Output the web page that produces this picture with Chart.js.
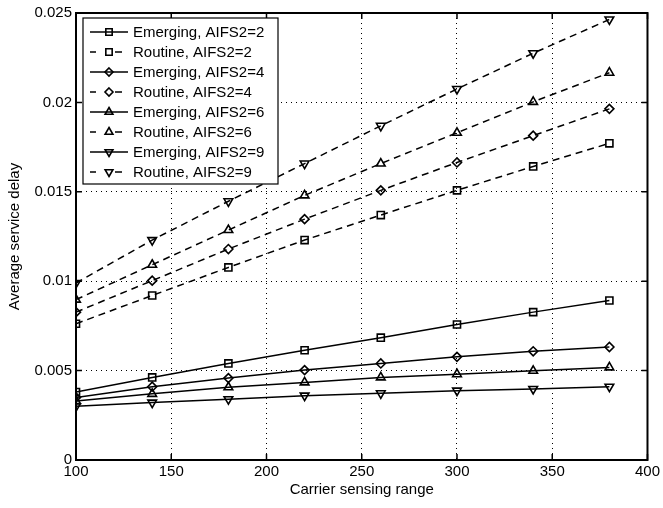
<!DOCTYPE html>
<html>
<head>
<meta charset="utf-8">
<script src="https://cdn.jsdelivr.net/npm/chart.js@4/dist/chart.umd.min.js"></script>
<style>
  body { margin: 0; background: #fff; }
  #wrap { width: 663px; height: 508px; position: relative; }
</style>
</head>
<body>
<div id="wrap"><canvas id="chart"></canvas></div>
<script>
const ranges = [100, 140, 180, 220, 260, 300, 340, 380];

const emerging2 = [0.0038, 0.00462, 0.0054, 0.00614, 0.00684, 0.00758, 0.00827, 0.00892];
const routine2  = [0.00762, 0.0092, 0.01077, 0.0123, 0.0137, 0.01508, 0.01642, 0.01771];
const emerging4 = [0.0035, 0.0041, 0.00458, 0.00503, 0.0054, 0.00577, 0.00608, 0.00632];
const routine4  = [0.00827, 0.01003, 0.0118, 0.01347, 0.01508, 0.01664, 0.01814, 0.01964];
const emerging6 = [0.0033, 0.0037, 0.00407, 0.00434, 0.00462, 0.0048, 0.00499, 0.00518];
const routine6  = [0.00897, 0.01092, 0.01286, 0.0148, 0.01658, 0.0183, 0.02003, 0.02166];
const emerging9 = [0.0030, 0.00321, 0.0034, 0.0036, 0.00373, 0.00388, 0.00397, 0.0041];
const routine9  = [0.0099, 0.0123, 0.01447, 0.01658, 0.01869, 0.02075, 0.02275, 0.02464];

const xTicks = [100, 150, 200, 250, 300, 350, 400];
const yTicks = [0, 0.005, 0.01, 0.015, 0.02, 0.025];

const FONT = '"Liberation Sans", Arial, Helvetica, sans-serif';
const DASH = [7, 5];

function series(label, values, marker, dashed) {
  return {
    label: label,
    data: ranges.map((x, i) => ({ x: x, y: values[i] })),
    borderColor: '#000',
    borderWidth: 1.5,
    borderDash: dashed ? DASH : [],
    backgroundColor: 'rgba(0,0,0,0)',
    pointStyle: marker === 'down' ? 'triangle' : marker,
    pointRotation: marker === 'down' ? 180 : 0,
    pointRadius: marker === 'rectRot' ? 4.5 : 5,
    pointBorderWidth: 1.6,
    pointBorderColor: '#000',
    pointBackgroundColor: 'rgba(0,0,0,0)',
    tension: 0
  };
}

const datasets = [
  series('Emerging, AIFS2=2', emerging2, 'rect', false),
  series('Routine, AIFS2=2', routine2, 'rect', true),
  series('Emerging, AIFS2=4', emerging4, 'rectRot', false),
  series('Routine, AIFS2=4', routine4, 'rectRot', true),
  series('Emerging, AIFS2=6', emerging6, 'triangle', false),
  series('Routine, AIFS2=6', routine6, 'triangle', true),
  series('Emerging, AIFS2=9', emerging9, 'down', false),
  series('Routine, AIFS2=9', routine9, 'down', true)
];

// small marker drawer for the legend
function marker(ctx, style, rot, r, x, y) {
  ctx.beginPath();
  if (style === 'rect') {
    const s = r / Math.SQRT2;
    ctx.rect(x - s, y - s, 2 * s, 2 * s);
  } else if (style === 'rectRot') {
    ctx.moveTo(x, y - r); ctx.lineTo(x + r, y); ctx.lineTo(x, y + r); ctx.lineTo(x - r, y);
    ctx.closePath();
  } else {
    const d = rot ? -1 : 1;
    const h = r * 1.5, w = r * Math.sqrt(3) / 2;
    ctx.moveTo(x, y - d * r);
    ctx.lineTo(x + w, y - d * (r - h));
    ctx.lineTo(x - w, y - d * (r - h));
    ctx.closePath();
  }
  ctx.stroke();
}

const matlabFrame = {
  id: 'matlabFrame',
  afterDraw(chart) {
    const ctx = chart.ctx;
    const a = chart.chartArea;
    const xs = chart.scales.x, ys = chart.scales.y;
    ctx.save();
    ctx.strokeStyle = '#000';
    // inward ticks
    ctx.lineWidth = 1.5;
    ctx.beginPath();
    xTicks.forEach(v => {
      const px = xs.getPixelForValue(v);
      ctx.moveTo(px, a.bottom); ctx.lineTo(px, a.bottom - 6);
      ctx.moveTo(px, a.top); ctx.lineTo(px, a.top + 6);
    });
    yTicks.forEach(v => {
      const py = ys.getPixelForValue(v);
      ctx.moveTo(a.left, py); ctx.lineTo(a.left + 6, py);
      ctx.moveTo(a.right, py); ctx.lineTo(a.right - 6, py);
    });
    ctx.stroke();
    // box
    ctx.lineWidth = 2;
    ctx.strokeRect(a.left, a.top, a.right - a.left, a.bottom - a.top);

    // legend inside the axes, top left
    const lx = a.left + 7, ly = a.top + 5, lw = 195, rowH = 20;
    const lh = rowH * datasets.length + 6;
    ctx.fillStyle = '#fff';
    ctx.fillRect(lx, ly, lw, lh);
    ctx.lineWidth = 1.2;
    ctx.strokeRect(lx, ly, lw, lh);
    ctx.font = '15px ' + FONT;
    ctx.textBaseline = 'middle';
    chart.data.datasets.forEach((ds, i) => {
      const cy = ly + 14 + i * rowH;
      ctx.strokeStyle = '#000';
      ctx.lineWidth = 1.5;
      ctx.beginPath();
      if (ds.borderDash.length) {
        ctx.moveTo(lx + 7, cy); ctx.lineTo(lx + 13, cy);
        ctx.moveTo(lx + 32, cy); ctx.lineTo(lx + 39, cy);
      } else {
        ctx.moveTo(lx + 7, cy); ctx.lineTo(lx + 45, cy);
      }
      ctx.stroke();
      ctx.lineWidth = 1.6;
      marker(ctx, ds.pointStyle, ds.pointRotation, ds.pointStyle === 'rectRot' ? 4 : 4.5, lx + 26, cy);
      ctx.fillStyle = '#000';
      ctx.fillText(ds.label, lx + 50, cy + 1);
    });
    ctx.restore();
  }
};

new Chart(document.getElementById('chart').getContext('2d'), {
  type: 'line',
  data: { datasets: datasets },
  options: {
    responsive: true,
    maintainAspectRatio: false,
    animation: false,
    events: [],
    layout: { padding: { top: 10, right: 15, left: 6, bottom: 9 } },
    plugins: {
      legend: { display: false },
      tooltip: { enabled: false }
    },
    scales: {
      x: {
        type: 'linear',
        min: 100,
        max: 400,
        afterBuildTicks: s => { s.ticks = xTicks.map(v => ({ value: v })); },
        afterFit: s => { s.height = 39; },
        grid: { color: '#000', lineWidth: 1, drawTicks: false },
        border: { display: false, dash: [1, 4] },
        ticks: { color: '#000', padding: 3, maxRotation: 0, font: { family: FONT, size: 15 } },
        title: { display: true, text: 'Carrier sensing range', color: '#000', padding: { top: 0, bottom: 0 }, font: { family: FONT, size: 15 } }
      },
      y: {
        type: 'linear',
        min: 0,
        max: 0.025,
        afterBuildTicks: s => { s.ticks = yTicks.map(v => ({ value: v })); },
        afterFit: s => { s.width = 70; },
        grid: { color: '#000', lineWidth: 1, drawTicks: false },
        border: { display: false, dash: [1, 4] },
        ticks: {
          color: '#000', padding: 4, font: { family: FONT, size: 15 },
          callback: v => String(+v.toFixed(4))
        },
        title: { display: true, text: 'Average service delay', color: '#000', padding: { top: 0, bottom: 2 }, font: { family: FONT, size: 15 } }
      }
    }
  },
  plugins: [matlabFrame]
});
</script>
</body>
</html>
